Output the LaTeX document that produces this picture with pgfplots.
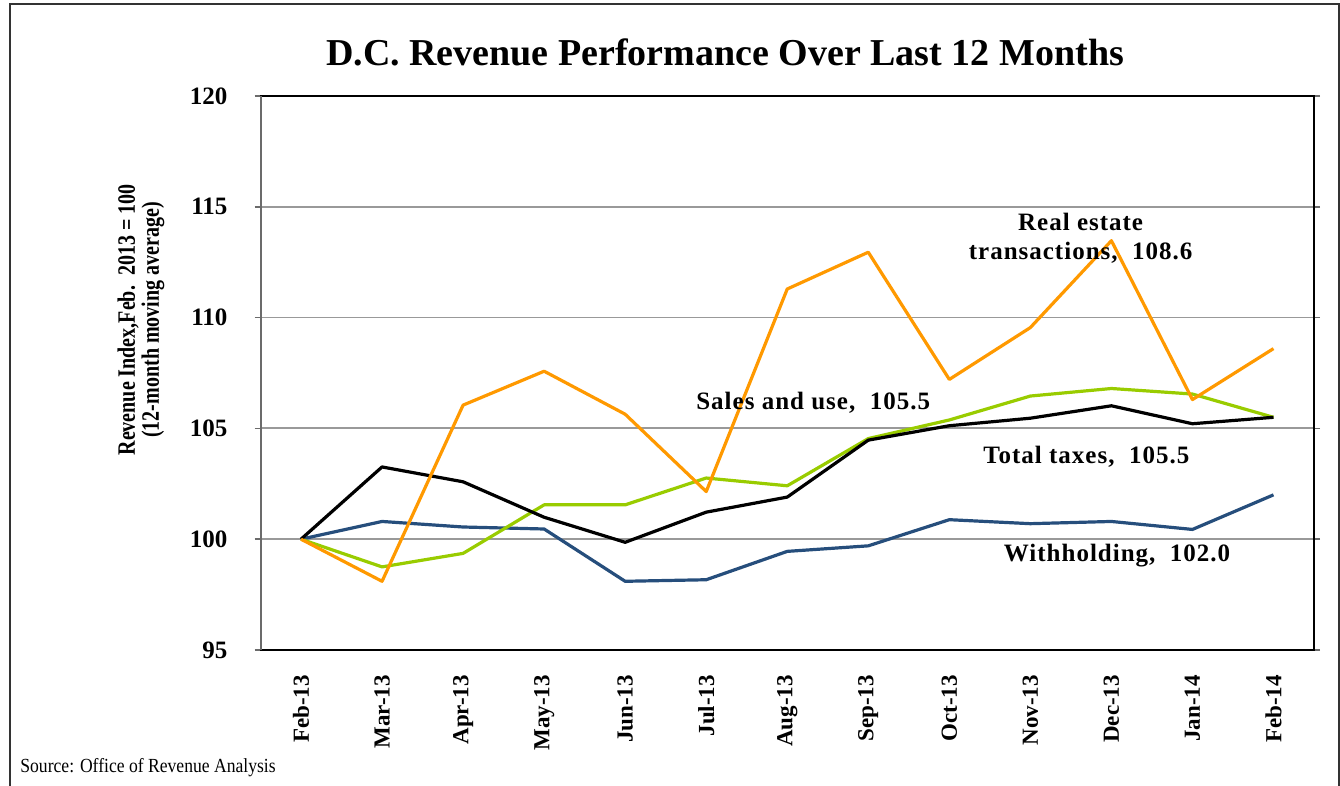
\documentclass[border=0pt]{standalone}
\usepackage{pgfplots}
\pgfplotsset{compat=1.18}
\usepackage{fontspec}
\setmainfont{Liberation Serif}
\newfontfamily\condfont[FakeStretch=0.88]{Liberation Serif}
\newfontfamily\narrowfont[FakeStretch=0.8]{Liberation Serif}
\newfontfamily\spacedfont[LetterSpace=4]{Liberation Serif}
\definecolor{wblue}{HTML}{264E7C}
\definecolor{sgreen}{HTML}{99CC00}
\definecolor{rorange}{HTML}{FF9900}
\definecolor{gridgray}{HTML}{999999}
\begin{document}
\begin{tikzpicture}
\useasboundingbox (0,0) rectangle (670pt,393pt);
% outer frame
\draw[line width=0.8pt, black!80] (5pt,-5pt) -- (5pt,391pt) -- (669.5pt,391pt) -- (669.5pt,-5pt);
\node[font=\fontsize{19}{22}\selectfont\bfseries] at (362.5pt,367pt) {D.C. Revenue Performance Over Last 12 Months};
\node[rotate=90, align=center, font=\fontsize{12.5}{12}\narrowfont\bfseries] at (70.5pt,233pt) {Revenue Index,Feb.\ \ 2013 = 100\\(12-month moving average)};
\node[anchor=west, font=\fontsize{10}{11}\condfont, inner sep=0pt] at (10pt,9pt) {Source: Office of Revenue Analysis};
\begin{axis}[
  at={(130.25pt,68pt)}, anchor=south west,
  scale only axis, width=526.75pt, height=277pt,
  xmin=-0.5, xmax=12.5, ymin=95, ymax=120,
  axis line style={black, line width=1pt},
  xtick={0,...,12},
  xticklabels={Feb-13,Mar-13,Apr-13,May-13,Jun-13,Jul-13,Aug-13,Sep-13,Oct-13,Nov-13,Dec-13,Jan-14,Feb-14},
  xticklabel style={rotate=90, anchor=east, font=\fontsize{11.5}{13}\selectfont\bfseries},
  xticklabel shift=6pt,
  x tick style={draw=none},
  ytick={95,100,...,120},
  yticklabel style={font=\fontsize{12.5}{14}\selectfont\bfseries},
  yticklabel shift=10pt,
  /pgf/number format/assume math mode=true,
  y tick style={gridgray!70!black, line width=0.8pt},
  tick align=outside, major tick length=3pt,
  ymajorgrids, grid style={gridgray, line width=0.9pt},
  every axis plot/.append style={line width=1.6pt, mark=none, line join=round},
  clip=false,
]
\addplot[wblue] coordinates {(0,100) (1,100.8) (2,100.55) (3,100.46) (4,98.1) (5,98.17) (6,99.45) (7,99.7) (8,100.88) (9,100.7) (10,100.8) (11,100.44) (12,102.0)};
\addplot[sgreen] coordinates {(0,100) (1,98.75) (2,99.36) (3,101.55) (4,101.55) (5,102.76) (6,102.41) (7,104.54) (8,105.38) (9,106.46) (10,106.8) (11,106.55) (12,105.5)};
\addplot[black] coordinates {(0,100) (1,103.26) (2,102.59) (3,100.99) (4,99.86) (5,101.22) (6,101.9) (7,104.47) (8,105.12) (9,105.46) (10,106.02) (11,105.21) (12,105.5)};
\addplot[rorange] coordinates {(0,100) (1,98.1) (2,106.05) (3,107.58) (4,105.64) (5,102.15) (6,111.29) (7,112.95) (8,107.21) (9,109.55) (10,113.47) (11,106.3) (12,108.6)};
\draw[gridgray!70!black, line width=1pt] (axis cs:-0.5,95) -- (axis cs:-0.5,120);
\node[align=center, font=\fontsize{12.5}{14.5}\spacedfont\bfseries] at (axis cs:9.62,113.57) {Real estate\\transactions,\ \ 108.6};
\node[font=\fontsize{12.5}{14.5}\spacedfont\bfseries] at (axis cs:6.32,106.15) {Sales and use,\ \ 105.5};
\node[font=\fontsize{12.5}{14.5}\spacedfont\bfseries] at (axis cs:9.69,103.71) {Total taxes,\ \ 105.5};
\node[font=\fontsize{12.5}{14.5}\spacedfont\bfseries] at (axis cs:10.07,99.28) {Withholding,\ \ 102.0};
\end{axis}
\end{tikzpicture}
\end{document}
